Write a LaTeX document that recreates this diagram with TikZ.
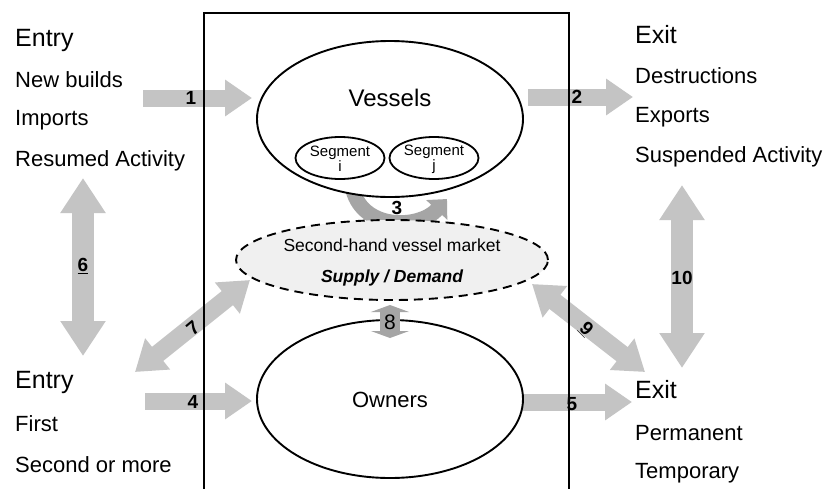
\documentclass[tikz,border=0pt]{standalone}
\usepackage{fontspec}
\setmainfont{Liberation Sans}
\usetikzlibrary{arrows.meta,shapes.geometric}
\definecolor{agray}{RGB}{196,196,196}
\definecolor{agraydark}{RGB}{165,165,165}
\definecolor{mktfill}{RGB}{240,240,240}
\tikzset{
  head/.style={font=\fontsize{25}{30}\selectfont, anchor=west, inner sep=0pt},
  item/.style={font=\fontsize{22}{26}\selectfont, anchor=west, inner sep=0pt},
  num/.style={font=\fontsize{19}{22}\selectfont\bfseries, inner sep=0pt},
  bigarrow/.style={line width=17pt, draw=agray, -{Triangle[length=27pt,width=35pt]}},
  dblarrow/.style={line width=18pt, draw=agray, {Triangle[length=29pt,width=38pt]}-{Triangle[length=29pt,width=38pt]}},
  vertarrow/.style={line width=22pt, draw=agray, {Triangle[length=35pt,width=43pt]}-{Triangle[length=35pt,width=43pt]}},
  bubble/.style={ellipse, draw=black, line width=1.9pt, fill=white, inner sep=0pt},
  segbubble/.style={ellipse, draw=black, line width=1.8pt, inner sep=0pt, minimum width=89pt, minimum height=42pt},
  segtext/.style={font=\fontsize{15}{17}\selectfont, align=center, inner sep=0pt},
}
\begin{document}
\begin{tikzpicture}[x=1pt,y=-1pt]
\fill[white] (0,0) rectangle (825,488);
\useasboundingbox (0,0) rectangle (825,488);

% left texts
\node[head] (entry1) at (15,40) {Entry};
\node[item] (newb) at (15,80) {New builds};
\node[item] (imp) at (15,120) {Imports};
\node[item] (res) at (15,161) {Resumed Activity};
\node[head] (entry2) at (15,382) {Entry};
\node[item] (first) at (15,424) {First};
\node[item] (second) at (15,465) {Second or more};
% right texts
\node[head] (exit1) at (635,35) {Exit};
\node[item] (destr) at (635,76) {Destructions};
\node[item] (exp) at (635,117) {Exports};
\node[item] (susp) at (635,157) {Suspended Activity};
\node[head] (exit2) at (635,390) {Exit};
\node[item] (perm) at (635,433) {Permanent};
\node[item] (temp) at (635,473) {Temporary};

% arrow end points
\coordinate (a1s) at (143,98);  \coordinate (a1e) at (252,98);
\coordinate (a2s) at (528,97);  \coordinate (a2e) at (633,97);
\coordinate (a4s) at (145,401); \coordinate (a4e) at (252,401);
\coordinate (a5s) at (523,402); \coordinate (a5e) at (632,402);
\coordinate (a6s) at (83,178);  \coordinate (a6e) at (83,356);
\coordinate (a10s) at (682,185); \coordinate (a10e) at (682,368);
\coordinate (a7s) at (135,372); \coordinate (a7e) at (250,280);
\coordinate (a9s) at (532,284); \coordinate (a9e) at (645,372);
\coordinate (a3s) at (352,186); \coordinate (a3e) at (447,199);
\coordinate (a8s) at (390,305); \coordinate (a8e) at (390,338);

% arrows under the frame
\draw[bigarrow] (a1s) -- (a1e);
\draw[bigarrow] (a2s) -- (a2e);
\draw[bigarrow] (a4s) -- (a4e);
\draw[bigarrow] (a5s) -- (a5e);
\draw[vertarrow] (a6s) -- (a6e);
\draw[vertarrow] (a10s) -- (a10e);
\draw[dblarrow] (a7s) -- (a7e);
\draw[dblarrow] (a9s) -- (a9e);
\draw[line width=15pt, draw=agraydark, -{Triangle[length=15pt,width=28pt]}]
  (a3s) .. controls (360,230) and (418,230) .. (a3e);

% frame
\draw[line width=1.8pt] (204,490) -- (204,13) -- (569,13) -- (569,490);

% ellipses
\node[bubble, minimum width=266pt, minimum height=156pt] (vessels) at (390,119) {};
\node[font=\fontsize{24}{28}\selectfont, inner sep=0pt] (vtxt) at (390,98) {Vessels};
\node[segbubble] (segi) at (340,158) {};
\node[segbubble] (segj) at (434,158) {};
\node[segtext] (segitxt) at (340,159) {Segment\\[-2pt]i};
\node[segtext] (segjtxt) at (434,159) {Segment\\[-2pt]j};

\node[ellipse, draw=black, dashed, dash pattern=on 9pt off 6pt, line width=1.9pt, fill=mktfill,
      minimum width=312pt, minimum height=80pt, inner sep=0pt] (market) at (392,260) {};
\node[font=\fontsize{17.5}{20}\selectfont, inner sep=0pt] (mkt1) at (392,245) {Second-hand vessel market};
\node[font=\fontsize{17.5}{20}\selectfont\bfseries\itshape, inner sep=0pt] (mkt2) at (392,278) {Supply / Demand};

\node[bubble, minimum width=266pt, minimum height=158pt] (owners) at (390,399) {};
\node[font=\fontsize{22}{26}\selectfont, inner sep=0pt] (otxt) at (390,400) {Owners};

% arrow 8 on top
\draw[line width=20pt, draw=agraydark, {Triangle[length=7pt,width=38pt]}-{Triangle[length=7pt,width=38pt]}] (a8s) -- (a8e);

% number labels
\node[num] (n1) at (191,98) {1};
\node[num] (n2) at (577,97) {2};
\node[num] (n3) at (397,208) {3};
\node[num] (n4) at (193,402) {4};
\node[num] (n5) at (572,404) {5};
\node[num] (n6) at (83,266) {\underline{6}};
\node[num, rotate=40] (n7) at (193,328) {7};
\node[font=\fontsize{21}{24}\selectfont, inner sep=0pt] (n8) at (390,322) {8};
\node[num, rotate=-45] (n9) at (586,329) {\underline{9}};
\node[num] (n10) at (682,278) {10};
\end{tikzpicture}
\end{document}
